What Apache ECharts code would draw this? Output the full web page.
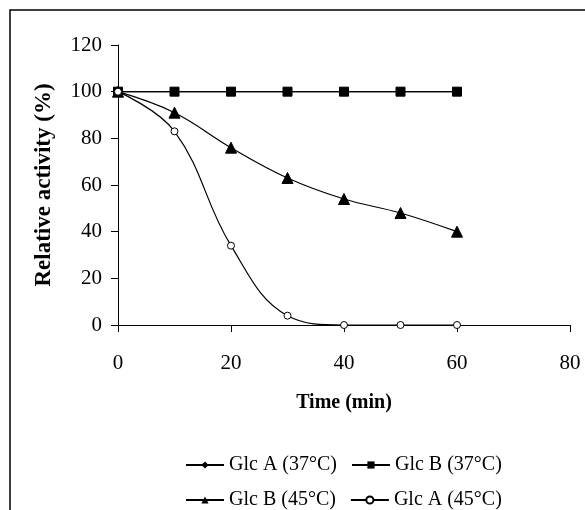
<!DOCTYPE html>
<html>
<head>
<meta charset="utf-8">
<script src="https://cdn.jsdelivr.net/npm/echarts@6/dist/echarts.min.js"></script>
<style>
html,body{margin:0;padding:0;background:#fff;}
#chart{width:585px;height:510px;}
</style>
</head>
<body>
<div id="chart"></div>
<script>
var times = [0, 10, 20, 30, 40, 50, 60];
var glcA37 = [100, 100, 100, 100, 100, 100, 100];
var glcB37 = [100, 100, 100, 100, 100, 100, 100];
var glcB45 = [100, 91, 76, 63, 54, 48, 40];
var glcA45 = [100, 83, 34, 4, 0, 0, 0];
var xTicks = [0, 20, 40, 60, 80];
var yTicks = [0, 20, 40, 60, 80, 100, 120];

function pairs(vals){ return times.map(function(t,i){ return [t, vals[i]]; }); }

var font = 'Liberation Serif, Times New Roman, serif';
var chart = echarts.init(document.getElementById('chart'));
var base = {
  type: 'line', smooth: 0.4, lineStyle: {color: '#000', width: 1.2},
  itemStyle: {color: '#000', borderColor: '#000'}, emphasis: {disabled: true},
  animation: false
};
chart.setOption({
  backgroundColor: '#fff',
  animation: false,
  textStyle: {fontFamily: font, color: '#000'},
  graphic: [{
    type: 'rect', shape: {x: 10, y: 10, width: 600, height: 520},
    style: {fill: 'none', stroke: '#000', lineWidth: 1.5}, silent: true, z: -10
  }],
  grid: {left: 118, right: 15, top: 45, bottom: 185},
  xAxis: {
    type: 'value', min: 0, max: 80, interval: 20,
    name: 'Time (min)', nameLocation: 'middle', nameGap: 68,
    nameTextStyle: {fontFamily: font, fontSize: 20, fontWeight: 'bold', color: '#000'},
    axisLine: {lineStyle: {color: '#000', width: 1}},
    axisTick: {show: true, length: 7, lineStyle: {color: '#000'}},
    axisLabel: {fontFamily: font, fontSize: 21, color: '#000', margin: 28,
      formatter: function(v){ return xTicks.indexOf(v) >= 0 ? String(v) : ''; }},
    splitLine: {show: false}
  },
  yAxis: {
    type: 'value', min: 0, max: 120, interval: 20,
    name: 'Relative activity (%)', nameLocation: 'middle', nameGap: 62,
    nameTextStyle: {fontFamily: font, fontSize: 23, fontWeight: 'bold', color: '#000'},
    axisLine: {show: true, lineStyle: {color: '#000', width: 1}},
    axisTick: {show: true, length: 7, lineStyle: {color: '#000'}},
    axisLabel: {fontFamily: font, fontSize: 21, color: '#000', margin: 16,
      formatter: function(v){ return yTicks.indexOf(v) >= 0 ? String(v) : ''; }},
    splitLine: {show: false}
  },
  legend: [{
    data: ['Glc A (37°C)', 'Glc B (37°C)'], left: 180, top: 450, orient: 'horizontal',
    itemWidth: 38, itemHeight: 9, itemGap: 14,
    textStyle: {fontFamily: font, fontSize: 20, color: '#000', width: 112}
  }, {
    data: ['Glc B (45°C)', 'Glc A (45°C)'], left: 180, top: 485, orient: 'horizontal',
    itemWidth: 38, itemHeight: 9, itemGap: 14,
    textStyle: {fontFamily: font, fontSize: 20, color: '#000', width: 112}
  }],
  series: [
    Object.assign({}, base, {name: 'Glc A (37°C)', data: pairs(glcA37), symbol: 'diamond', symbolSize: 8}),
    Object.assign({}, base, {name: 'Glc B (37°C)', data: pairs(glcB37), symbol: 'rect', symbolSize: 9}),
    Object.assign({}, base, {name: 'Glc B (45°C)', data: pairs(glcB45), symbol: 'triangle', symbolSize: 11}),
    Object.assign({}, base, {name: 'Glc A (45°C)', data: pairs(glcA45), symbol: 'circle', symbolSize: 7,
      itemStyle: {color: '#fff', borderColor: '#000', borderWidth: 1}})
  ]
});
</script>
</body>
</html>
